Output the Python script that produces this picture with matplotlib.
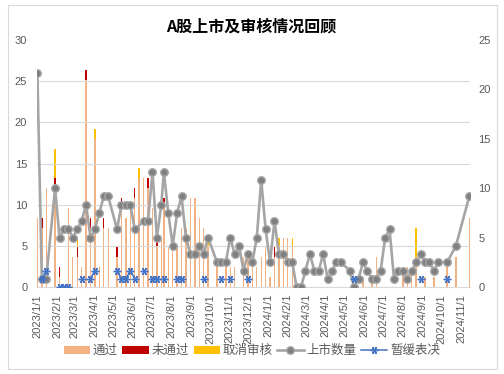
import numpy as np
import pandas as pd
import matplotlib
matplotlib.use("Agg")
import matplotlib.pyplot as plt
import matplotlib.dates as mdates
from matplotlib.patches import Rectangle, Patch
from matplotlib.lines import Line2D
from matplotlib.ticker import FuncFormatter

plt.rcParams['font.family'] = ['Liberation Sans', 'Noto Sans CJK SC', 'DejaVu Sans']

title = "A股上市及审核情况回顾"
legend_labels = ["通过", "未通过", "取消审核", "上市数量", "暂缓表决"]

dates = [
    "2023-01-01", "2023-01-08", "2023-01-15", "2023-01-29", "2023-02-05", "2023-02-12", "2023-02-19", "2023-02-26",
    "2023-03-05", "2023-03-12", "2023-03-19", "2023-03-26", "2023-04-02", "2023-04-09", "2023-04-16", "2023-04-23",
    "2023-05-07", "2023-05-14", "2023-05-21", "2023-05-28", "2023-06-04", "2023-06-11", "2023-06-18", "2023-06-25",
    "2023-07-02", "2023-07-09", "2023-07-16", "2023-07-20", "2023-07-27", "2023-08-03", "2023-08-10", "2023-08-17",
    "2023-08-24", "2023-08-31", "2023-09-07", "2023-09-14", "2023-09-21", "2023-09-28", "2023-10-12", "2023-10-19",
    "2023-10-26", "2023-11-02", "2023-11-09", "2023-11-16", "2023-11-23", "2023-11-30", "2023-12-07", "2023-12-14",
    "2023-12-21", "2023-12-28", "2024-01-04", "2024-01-11", "2024-01-18", "2024-01-25", "2024-02-01", "2024-02-08",
    "2024-02-15", "2024-02-22", "2024-02-29", "2024-03-07", "2024-03-14", "2024-03-21", "2024-03-28", "2024-04-04",
    "2024-04-11", "2024-04-18", "2024-04-25", "2024-05-09", "2024-05-16", "2024-05-23", "2024-05-30", "2024-06-06",
    "2024-06-13", "2024-06-20", "2024-06-27", "2024-07-04", "2024-07-11", "2024-07-18", "2024-07-25", "2024-08-01",
    "2024-08-08", "2024-08-15", "2024-08-22", "2024-08-29", "2024-09-05", "2024-09-12", "2024-09-19", "2024-09-26",
    "2024-10-10", "2024-10-24", "2024-11-14",
]

nan = np.nan
# 上市数量 (left axis)
listed = [
    26, 1, 1, 12, 6, 7, 7, 6,
    7, 8, 10, 6, 7, 9, 11, 11,
    7, 10, 10, 10, 7, nan, 8, 8,
    14, 6, 10, 14, 9, 5, 9, 11,
    6, 4, 4, 5, 4, 6, 3, 3,
    3, 6, 4, 5, 2, 4, 3, 6,
    13, 7, 3, 8, 4, 4, 3, 3,
    0, 0, 2, 4, 2, 2, 4, 1,
    2, 3, 3, 2, 0, 1, 3, 2,
    1, 1, 2, 6, 7, 1, 2, 2,
    1, 2, 3, 4, 3, 3, 2, 3,
    3, 5, 11,
]
# 暂缓表决 (left axis)
deferred = [
    nan, 1, 2, nan, 0, 0, 0, nan,
    nan, 1, nan, 1, 2, nan, nan, nan,
    2, 1, 1, 2, 1, nan, 2, nan,
    1, 1, nan, 1, nan, nan, 1, 1,
    nan, nan, nan, nan, 1, nan, nan, 1,
    nan, 1, nan, nan, nan, 1, nan, nan,
    nan, nan, nan, nan, nan, nan, nan, nan,
    nan, nan, nan, nan, nan, nan, nan, nan,
    nan, nan, nan, nan, 1, nan, nan, nan,
    nan, nan, nan, nan, nan, nan, nan, nan,
    nan, nan, nan, 1, nan, nan, nan, nan,
    1, nan, nan,
]
# 通过 (right axis)
passed = [
    7, 6, 10, 10, 1, 0, 8, 3,
    3, 2, 21, 6, 15, 2, 6, 6,
    3, 8, 7, 8, 9, 11, 11, 10,
    8, 4, 5, 8, 4, 4, 4, 6,
    6, 9, 9, 7, 6, 4, 2, 0,
    2, 2, 2, 0, 3, 3, 2, 2,
    3, 4, 1, 3, 4, 5, 5, 4,
    0, 0, 0, 0, 0, 0, 0, 0,
    0, 0, 0, 0, 0, 0, 1, 0,
    1, 3, 0, 0, 0, 0, 0, 2,
    2, 2, 3, 0, 1, 0, 1, 0,
    2, 3, 7,
]
# 未通过 (right axis)
failed = [
    0, 1, 0, 1, 1, 0, 0, 0,
    1, 0, 1, 1, 0, 0, 1, 0,
    1, 1, 0, 0, 1, 0, 0, 1,
    0, 1, 0, 1, 0, 0, 0, 0,
    0, 0, 0, 0, 0, 0, 0, 0,
    0, 0, 0, 0, 0, 0, 0, 0,
    0, 0, 0, 1, 0, 0, 0, 0,
    0, 0, 0, 0, 0, 0, 0, 0,
    0, 0, 0, 0, 0, 0, 0, 0,
    0, 0, 0, 0, 0, 0, 0, 0,
    0, 0, 0, 0, 0, 0, 0, 0,
    0, 0, 0,
]
# 取消审核 (right axis)
cancelled = [
    0, 0, 0, 3, 0, 0, 0, 0,
    1, 0, 0, 0, 1, 0, 0, 0,
    0, 0, 0, 0, 0, 1, 0, 0,
    0, 0, 0, 0, 0, 0, 0, 0,
    0, 0, 0, 0, 0, 1, 0, 0,
    0, 0, 0, 0, 0, 0, 0, 0,
    0, 0, 0, 0, 1, 0, 0, 1,
    0, 0, 0, 0, 0, 0, 0, 0,
    0, 0, 0, 0, 0, 0, 0, 0,
    0, 0, 0, 0, 0, 0, 0, 0,
    0, 0, 3, 0, 0, 0, 0, 0,
    0, 0, 0,
]

left_ticks = [0, 5, 10, 15, 20, 25, 30]
right_ticks = [0, 5, 10, 15, 20, 25]

C_PASS = "#F4B183"
C_FAIL = "#C00000"
C_CANCEL = "#FFC000"
C_GRAY = "#A5A5A5"
C_GRAY_FILL = "#808080"
C_BLUE = "#4472C4"
C_TEXT = "#595959"
C_GRID = "#D9D9D9"

x = mdates.date2num(pd.to_datetime(dates).to_pydatetime())
listed = np.array(listed, dtype=float)
deferred = np.array(deferred, dtype=float)
passed = np.array(passed, dtype=float)
failed = np.array(failed, dtype=float)
cancelled = np.array(cancelled, dtype=float)

W, H = 504, 374
fig = plt.figure(figsize=(W / 100, H / 100), dpi=100)
axl = fig.add_axes([37 / W, 1 - 287 / H, 433 / W, 247 / H])
axr = axl.twinx()
axl.set_zorder(2)
axr.set_zorder(1)
axl.patch.set_visible(False)

bw = 2.2
axr.bar(x, passed, width=bw, color=C_PASS, linewidth=0)
axr.bar(x, failed, width=bw, bottom=passed, color=C_FAIL, linewidth=0)
axr.bar(x, cancelled, width=bw, bottom=passed + failed, color=C_CANCEL, linewidth=0)

m = ~np.isnan(listed)
axl.plot(x[m], listed[m], color=C_GRAY, lw=1.9, marker='o', ms=5.4,
         mfc=C_GRAY_FILL, mec=C_GRAY, mew=1.0, zorder=3)
axl.plot(x, deferred, color=C_BLUE, lw=1.1, marker=(6, 2, 90), ms=5.5,
         mec=C_BLUE, mew=1.0, zorder=4)

axl.set_ylim(0, 30)
axl.set_yticks(left_ticks)
axr.set_ylim(0, 25)
axr.set_yticks(right_ticks)
axr.set_yticks(np.array(left_ticks[1:]) * 25 / 30, minor=True)
axr.grid(which='minor', axis='y', color=C_GRID, lw=0.8)
axr.grid(which='major', axis='y', visible=False)
axr.tick_params(axis='y', which='minor', length=0)

axl.set_xlim(mdates.date2num(pd.Timestamp("2023-01-01")) - 0.6,
             mdates.date2num(pd.Timestamp("2024-11-14")) + 1.2)
axl.xaxis.set_major_locator(mdates.MonthLocator(bymonthday=1))
axl.xaxis.set_major_formatter(FuncFormatter(
    lambda v, pos: "{0}/{1}/{2}".format(mdates.num2date(v).year,
                                        mdates.num2date(v).month,
                                        mdates.num2date(v).day)))
for lab in axl.get_xticklabels():
    lab.set_rotation(90)
axl.tick_params(axis='x', length=0, labelsize=8, colors=C_TEXT, pad=5, labelrotation=90)
axl.tick_params(axis='y', length=0, labelsize=8, colors=C_TEXT, pad=7)
axr.tick_params(axis='y', which='major', length=0, labelsize=8, colors=C_TEXT, pad=6)

for sp in axl.spines.values():
    sp.set_visible(False)
for sp in axr.spines.values():
    sp.set_visible(False)
axl.spines['bottom'].set_visible(True)
axl.spines['bottom'].set_color(C_GRID)
axl.spines['bottom'].set_linewidth(0.8)

handles = [
    Patch(facecolor=C_PASS, edgecolor='none'),
    Patch(facecolor=C_FAIL, edgecolor='none'),
    Patch(facecolor=C_CANCEL, edgecolor='none'),
    Line2D([], [], color=C_GRAY, lw=1.9, marker='o', ms=5.4, mfc=C_GRAY_FILL, mec=C_GRAY, mew=1.0),
    Line2D([], [], color=C_BLUE, lw=1.1, marker=(6, 2, 90), ms=5.5, mec=C_BLUE, mew=1.0),
]
leg = fig.legend(handles, legend_labels, loc='center', bbox_to_anchor=(0.5, 1 - 351 / H),
                 ncol=5, frameon=False, fontsize=9, handlelength=2.1, handleheight=0.6,
                 handletextpad=0.25, columnspacing=0.35, labelcolor=C_TEXT)

fig.text(0.499, 1 - 26 / H, title, ha='center', va='center', fontsize=11.5,
         fontweight='bold', family=['Noto Sans CJK SC'], color='black')

fig.patches.append(Rectangle((8 / W, 5 / H), 489 / W, 364 / H, transform=fig.transFigure,
                             fill=False, ec=C_GRID, lw=0.8))

fig.savefig("out.png", dpi=100)
